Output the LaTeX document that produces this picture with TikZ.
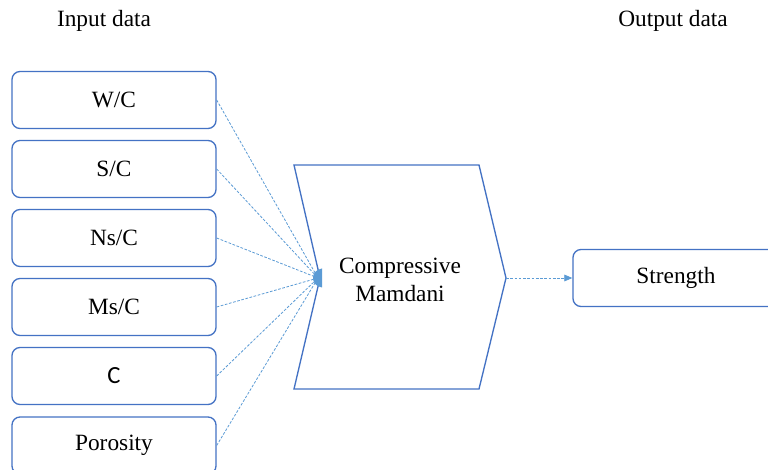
\documentclass[tikz,border=0pt]{standalone}
\usepackage{fontspec}
\setmainfont{Liberation Serif}
\newfontfamily\cfont{Carlito}
\usetikzlibrary{arrows.meta}
\definecolor{boxblue}{HTML}{4472C4}
\definecolor{lineblue}{HTML}{5B9BD5}
\begin{document}
\begin{tikzpicture}[x=0.75pt,y=-0.75pt,
  inbox/.style={draw=boxblue,line width=1pt,rounded corners=6pt,minimum width=153pt,minimum height=42.75pt,inner sep=0pt,font=\fontsize{17.5}{21}\selectfont},
  conn/.style={draw=lineblue,line width=0.6pt,dash pattern=on 2pt off 1.2pt},
  lbl/.style={font=\fontsize{17.5}{21}\selectfont,inner sep=0pt}]
\clip (0,0) rectangle (768,470);
\fill[white] (0,0) rectangle (768,470);
\node[lbl] (tin) at (104,21) {Input data};
\node[lbl] (tout) at (673,21) {Output data};
\node[inbox] (b1) at (114,100) {W/C};
\node[inbox] (b2) at (114,169) {S/C};
\node[inbox] (b3) at (114,238) {Ns/C};
\node[inbox] (b4) at (114,307) {Ms/C};
\node[inbox] (b5) at (114,376) {\cfont\fontsize{18.5}{21}\selectfont C};
\node[inbox] (b6) at (114,445.5) {Porosity};
\node[inbox,minimum width=154.5pt] (out) at (676,278) {Strength};
% chevron
\draw[boxblue,line width=1pt,line join=miter] (294,165) -- (479,165) -- (506,278) -- (479,389) -- (294,389) -- (320,278) -- cycle;
\node[lbl,align=center] (mam) at (400,280) {Compressive\\Mamdani};
\coordinate (conv) at (318,278);
\coordinate (tip) at (506,278);
\foreach \b in {b1,b2,b3,b4,b5,b6} \draw[conn] (\b.east) -- (conv);
\fill[lineblue] (322,268.5) .. controls (310,270) and (310,286) .. (322,287.5) -- cycle;
\draw[conn,-{Triangle[length=6pt,width=5pt]}] (tip) -- (out.west);
\end{tikzpicture}
\end{document}
